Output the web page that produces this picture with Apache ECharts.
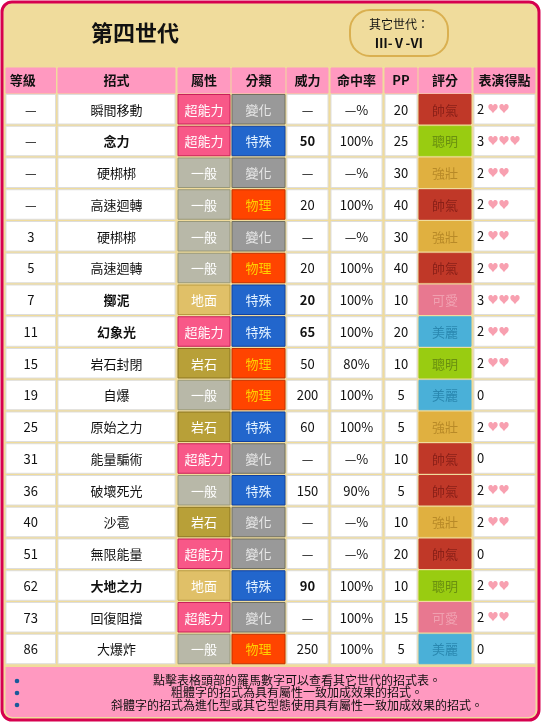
<!DOCTYPE html>
<html><head><meta charset="utf-8">
<script src="https://cdn.jsdelivr.net/npm/echarts@6/dist/echarts.min.js"></script>
<style>html,body{margin:0;padding:0;background:#fff}#c{width:542px;height:724px}</style>
</head><body><div id="c"></div>
<script>
const headers = ['等級','招式','屬性','分類','威力','命中率','PP','評分','表演得點'];
const levels = ['—','—','—','—','3','5','7','11','15','19','25','31','36','40','51','62','73','86'];
const moves = ['瞬間移動','念力','硬梆梆','高速迴轉','硬梆梆','高速迴轉','擲泥','幻象光','岩石封閉','自爆','原始之力','能量騙術','破壞死光','沙雹','無限能量','大地之力','回復阻擋','大爆炸'];
const boldMoves = [0,1,0,0,0,0,1,1,0,0,0,0,0,0,0,1,0,0];
const types = ['超能力','超能力','一般','一般','一般','一般','地面','超能力','岩石','一般','岩石','超能力','一般','岩石','超能力','地面','超能力','一般'];
const cats = ['變化','特殊','變化','物理','變化','物理','特殊','特殊','物理','物理','特殊','變化','特殊','變化','變化','特殊','變化','物理'];
const power = ['—','50','—','20','—','20','20','65','50','200','60','—','150','—','—','90','—','250'];
const accuracy = ['—%','100%','—%','100%','—%','100%','100%','100%','80%','100%','100%','—%','90%','—%','—%','100%','100%','100%'];
const pp = ['20','25','30','40','30','40','10','20','10','5','5','10','5','10','20','10','15','5'];
const ratings = ['帥氣','聰明','強壯','帥氣','強壯','帥氣','可愛','美麗','聰明','美麗','強壯','帥氣','帥氣','強壯','帥氣','聰明','可愛','美麗'];
const appeal = [2,3,2,2,2,2,3,2,2,0,2,0,2,2,0,2,2,0];

const colL = [6,58,178,232,287,331,385,419,474];
const colR = [55.5,175,230,285,328,382,417,471,535];
const typeCol = {'超能力':['#f85888','#c8205a','#fff'],'一般':['#b8b8a8','#98987a','#fff'],'岩石':['#b8a038','#8a7420','#fff'],'地面':['#e0c068','#b89a40','#fff']};
const catCol = {'變化':['#999999','#707060','#e8e8e8'],'特殊':['#2266cc','#1040a0','#e0f0ff'],'物理':['#ff4400','#c03000','#ffd000']};
const rateCol = {'帥氣':['#c03828','#8a2018'],'聰明':['#99cc11','#6a9010'],'強壯':['#e0b040','#b88a28'],'可愛':['#e87890','#f0a0b0'],'美麗':['#4ab0d8','#2a88b0']};
const FONT = '"Noto Sans CJK TC","Noto Sans",sans-serif';

const cells = [];
headers.forEach((h,c)=>cells.push({c, y0:68, y1:93, fill:'#ff99c0', stroke:'#ff99c0', text:h, color:'#111', bold:true, size:13, hdr:true}));
const rowTop = 94.5, pitch = 31.75, rh = 29.5;
for (let r=0;r<levels.length;r++){
  const y0 = rowTop + r*pitch, y1 = y0 + rh;
  const b = boldMoves[r]===1;
  const base = {y0,y1,fill:'#fff',stroke:'#dddddd',color:'#111',size:13};
  cells.push(Object.assign({},base,{c:0,text:levels[r]}));
  cells.push(Object.assign({},base,{c:1,text:moves[r],bold:b}));
  const t = typeCol[types[r]];
  cells.push(Object.assign({},base,{c:2,text:types[r],fill:t[0],stroke:t[1],color:t[2]}));
  const k = catCol[cats[r]];
  cells.push(Object.assign({},base,{c:3,text:cats[r],fill:k[0],stroke:k[1],color:k[2]}));
  cells.push(Object.assign({},base,{c:4,text:power[r],bold:b}));
  cells.push(Object.assign({},base,{c:5,text:accuracy[r]}));
  cells.push(Object.assign({},base,{c:6,text:pp[r]}));
  const q = rateCol[ratings[r]];
  cells.push(Object.assign({},base,{c:7,text:ratings[r],fill:q[0],stroke:q[0],color:q[1]}));
  cells.push(Object.assign({},base,{c:8,appeal:appeal[r]}));
}

const chart = echarts.init(document.getElementById('c'));
chart.setOption({
  animation:false,
  grid:{left:0,right:0,top:0,bottom:0},
  xAxis:{type:'value',min:0,max:542,show:false},
  yAxis:{type:'value',min:0,max:724,inverse:true,show:false},
  graphic:[
    {type:'rect',shape:{x:2,y:2,width:537,height:718,r:10},style:{fill:'#f0dc9c',stroke:'#d6004f',lineWidth:3},z:-10},
    {type:'rect',shape:{x:5.5,y:667,width:530,height:50,r:[0,0,7,7]},style:{fill:'#ff99c0'},z:-5},
    {type:'text',x:135,y:33,style:{text:'第四世代',font:'bold 22px '+FONT,fill:'#111',align:'center',verticalAlign:'middle'}},
    {type:'rect',shape:{x:350,y:10,width:98,height:46,r:20},style:{fill:'#f0dc9c',stroke:'#dab050',lineWidth:2}},
    {type:'text',x:399,y:24,style:{text:'其它世代：',font:'12px '+FONT,fill:'#111',align:'center',verticalAlign:'middle'}},
    {type:'text',x:399,y:43,style:{text:'Ⅲ-Ⅴ-Ⅵ',font:'bold 13px '+FONT,fill:'#111',align:'center',verticalAlign:'middle'}},
    {type:'text',x:46,y:80,style:{text:'♦',font:'11px '+FONT,fill:'#111',align:'center',verticalAlign:'middle'}},
    ...[679,691,703].map(y=>({type:'circle',shape:{cx:17,cy:y+2,r:2.3},style:{fill:'#1a5a9a'}})),
    {type:'text',x:297,y:680,style:{text:'點擊表格頭部的羅馬數字可以查看其它世代的招式表。',font:'12px '+FONT,fill:'#111',align:'center',verticalAlign:'middle'}},
    {type:'text',x:297,y:692,style:{text:'粗體字的招式為具有屬性一致加成效果的招式。',font:'12px '+FONT,fill:'#111',align:'center',verticalAlign:'middle'},z:1},
    {type:'text',x:297,y:705,style:{text:'斜體字的招式為進化型或其它型態使用具有屬性一致加成效果的招式。',font:'12px '+FONT,fill:'#111',align:'center',verticalAlign:'middle'}}
  ],
  series:[{
    type:'custom',
    data:cells.map((d,i)=>[d.c,i]),
    renderItem:function(params,api){
      const d = cells[params.dataIndex];
      const p0 = api.coord([colL[d.c], d.y0]);
      const p1 = api.coord([colR[d.c], d.y1]);
      const w = p1[0]-p0[0], h = p1[1]-p0[1];
      const children = [{type:'rect',shape:{x:p0[0],y:p0[1],width:w,height:h},style:{fill:d.fill,stroke:d.stroke,lineWidth:1}}];
      if (d.appeal!==undefined){
        children.push({type:'text',x:p0[0]+3,y:p0[1]+h/2,style:{
          text:'{n|'+d.appeal+'}'+(d.appeal>0?' {h|'+'♥'.repeat(d.appeal)+'}':''),
          rich:{n:{fontSize:13,fontFamily:FONT,fill:'#111'},h:{fontSize:11,fontFamily:FONT,fill:'#f8a0b0'}},
          align:'left',verticalAlign:'middle'}});
      } else {
        const cx = d.hdr && d.c===0 ? p0[0]+w/2-8 : p0[0]+w/2;
        children.push({type:'text',x:cx,y:p0[1]+h/2+(d.hdr?0:0.5),style:{text:d.text,font:(d.bold?'bold ':'')+d.size+'px '+FONT,fill:d.color,align:'center',verticalAlign:'middle'}});
      }
      return {type:'group',children};
    }
  }]
});
</script></body></html>
